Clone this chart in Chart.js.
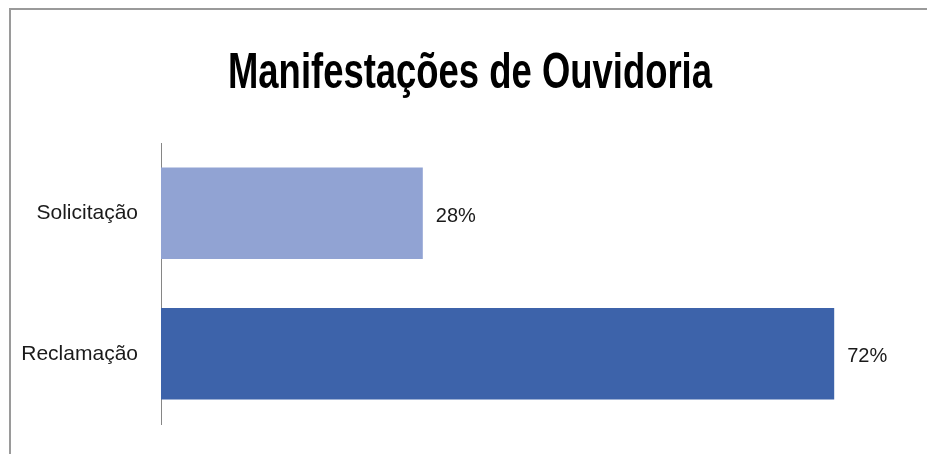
<!DOCTYPE html>
<html>
<head>
<meta charset="utf-8">
<script src="https://cdn.jsdelivr.net/npm/chart.js@4/dist/chart.umd.min.js"></script>
<style>
  body { margin: 0; background: #fff; }
  #wrap { position: relative; width: 927px; height: 454px; }
  #frame { position: absolute; left: 9px; top: 8px; right: 0; bottom: 0;
           border-top: 2px solid #9a9a9a; border-left: 2px solid #9a9a9a; pointer-events: none; }
</style>
</head>
<body>
<div id="wrap">
  <canvas id="ouvChart" width="927" height="454"></canvas>
  <div id="frame"></div>
</div>
<script>
// data
var titulo = 'Manifestações de Ouvidoria'
var categorias = ['Solicitação', 'Reclamação']
var valores = [28, 72]
var cores = ['#91a3d3', '#3d63aa']

var fonte = "'Liberation Sans', Arial, sans-serif"

// title drawn squeezed like the original
var tituloPlugin = {
    id: 'tituloPlugin',
    afterDraw: function (chart) {
        var ctx = chart.ctx
        ctx.save()
        ctx.font = 'bold 50px ' + fonte
        ctx.fillStyle = '#000'
        ctx.textAlign = 'center'
        ctx.textBaseline = 'alphabetic'
        var w = ctx.measureText(titulo).width
        ctx.translate(470, 88)
        ctx.scale(484 / w, 1)
        ctx.fillText(titulo, 0, 0)
        ctx.restore()
    }
}

// value labels at bar ends
var rotulosPlugin = {
    id: 'rotulosPlugin',
    afterDatasetsDraw: function (chart) {
        var ctx = chart.ctx
        var meta = chart.getDatasetMeta(0)
        ctx.save()
        ctx.font = '20px ' + fonte
        ctx.fillStyle = '#1a1a1a'
        ctx.textAlign = 'left'
        ctx.textBaseline = 'middle'
        meta.data.forEach(function (bar, i) {
            ctx.fillText(valores[i] + '%', bar.x + 13, bar.y + 3)
        })
        ctx.restore()
    }
}

var ctx = document.getElementById('ouvChart').getContext('2d')
var chart = new Chart(ctx, {
    type: 'bar',
    data: {
        labels: categorias,
        datasets: [{
            data: valores,
            backgroundColor: cores,
            borderWidth: 0,
            barPercentage: 0.65,
            categoryPercentage: 1
        }]
    },
    options: {
        indexAxis: 'y',
        responsive: false,
        animation: false,
        devicePixelRatio: 1,
        layout: { padding: { top: 143, bottom: 30, left: 0, right: 18 } },
        plugins: {
            legend: { display: false },
            title: { display: false },
            tooltip: { enabled: false }
        },
        scales: {
            x: { display: false, min: 0, max: 80 },
            y: {
                grid: { display: false, drawTicks: false },
                border: { display: true, color: '#868686', width: 1 },
                ticks: { color: '#1a1a1a', padding: 23, font: { family: fonte, size: 21 } },
                afterFit: function (scale) {
                    scale.width = 161
                    scale.paddingTop = 0
                    scale.paddingBottom = 0
                }
            }
        }
    },
    plugins: [tituloPlugin, rotulosPlugin]
});
</script>
</body>
</html>
